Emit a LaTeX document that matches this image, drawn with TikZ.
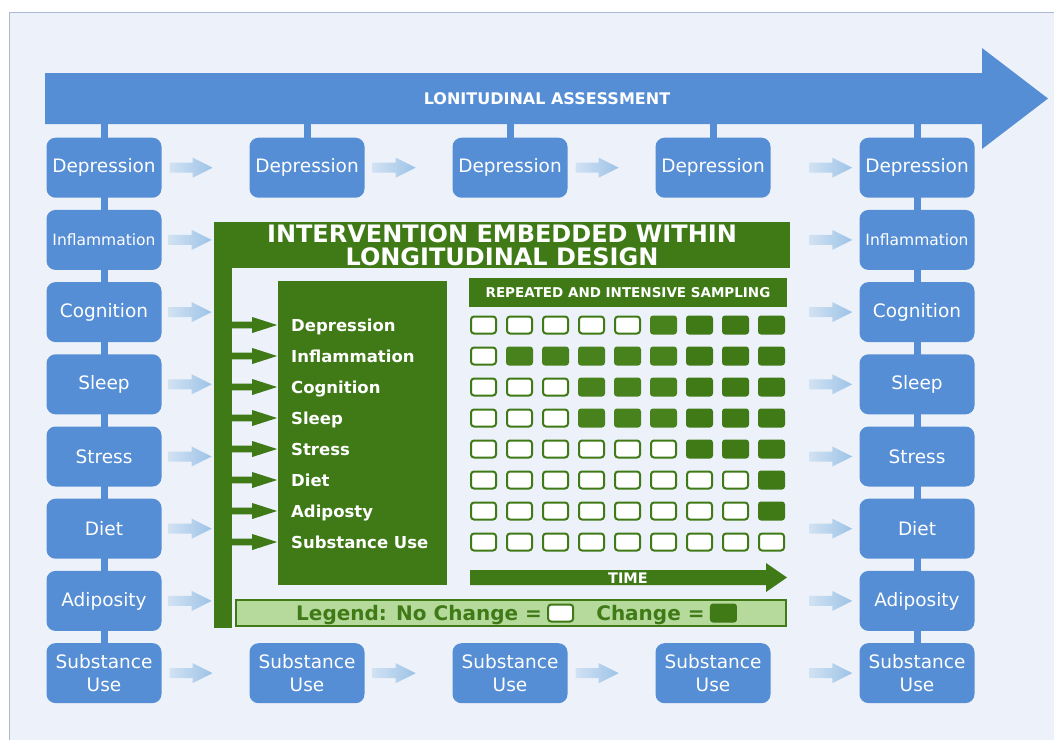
\documentclass[tikz,border=0pt]{standalone}
\usepackage{fontspec}
\setmainfont{DejaVu Sans}
\usetikzlibrary{positioning,calc,backgrounds}
\definecolor{hatter}{HTML}{EDF2FA}
\definecolor{keret}{HTML}{A9B9D6}
\definecolor{kek}{HTML}{558ED5}
\definecolor{halvany}{HTML}{9DC3E6}
\definecolor{zold}{HTML}{3F7A17}
\definecolor{zoldvil}{HTML}{47821C}
\definecolor{legvil}{HTML}{B5DA9B}
\colorlet{tele}{zold}
% pale arrow between two waves, #1 = left end
\newcommand{\halvanyil}[1]{%
  \shade[left color=halvany!35!hatter,right color=halvany,shift={#1}]
    (0,-5) -- (23,-5) -- (23,-10) -- (43,0) -- (23,10) -- (23,5) -- (0,5) -- cycle;}
% green arrow from the bar into the box
\newcommand{\zoldnyil}[1]{%
  \fill[zold,shift={#1}]
    (0,-3.3) -- (20,-3.3) -- (20,-8) -- (45,0) -- (20,8) -- (20,3.3) -- (0,3.3) -- cycle;}
\tikzset{
  kekdoboz/.style={fill=kek,rounded corners=9pt,minimum width=115pt,minimum height=60pt,inner sep=0pt,
                   text=white,align=center,font=\fontsize{18.5}{23}\selectfont},
  vonal/.style={draw=kek,line width=7pt},
  fejszoveg/.style={text=white,inner sep=0pt,font=\bfseries\fontsize{16}{18}\selectfont},
  zoldsav/.style={fill=zold,inner sep=0pt},
  cimke/.style={text=white,anchor=west,inner sep=0pt,text height=12pt,text depth=0pt,
                font=\bfseries\fontsize{16.5}{18}\selectfont},
  ures/.style={draw=zold,line width=2pt,fill=white,rounded corners=3pt,minimum width=25pt,
               minimum height=17pt,inner sep=0pt},
  teli/.style={fill=tele,rounded corners=3pt,minimum width=27pt,minimum height=19pt,inner sep=0pt},
  jelkeret/.style={draw=zold,line width=2pt,fill=legvil,minimum width=550pt,minimum height=26pt,inner sep=0pt},
  jelszoveg/.style={text=zold,inner sep=0pt,text height=14.6pt,text depth=0pt,
                    font=\bfseries\fontsize{20}{22}\selectfont},
}
\begin{document}
\begin{tikzpicture}[x=1pt,y=-1pt]
  \useasboundingbox (0,0) rectangle (1054,740);
  \coordinate (fejalj) at (0,124);
  % assessment arrow on top
  \fill[kek] (45,73) -- (982,73) -- (982,48) -- (1048,98.5) -- (982,149) -- (982,124) -- (45,124) -- cycle;
  \node[fejszoveg] (fej) at (547,99) {LONITUDINAL ASSESSMENT};

  % first and last wave
  \foreach \nev [count=\r] in {Depression,{\fontsize{15.5}{16}\selectfont Inflammation},Cognition,Sleep,
                               Stress,Diet,Adiposity,Substance\\Use} {
    \node[kekdoboz] (k-1-\r) at (104,95.5+72.2*\r) {\nev};
    \node[kekdoboz] (k-5-\r) at (917,95.5+72.2*\r) {\nev};
  }
  % waves in between
  \foreach \c/\x in {2/307,3/510,4/713} {
    \node[kekdoboz] (k-\c-1) at (\x,167.7) {Depression};
    \node[kekdoboz] (k-\c-8) at (\x,673.2) {Substance\\Use};
  }
  \foreach \c in {1,2,3} {
    \halvanyil{($(k-\c-1.east)+(8,0)$)}
    \halvanyil{($(k-\c-8.east)+(8,0)$)}
  }
  \foreach \r in {2,...,7} {\halvanyil{($(k-1-\r.east)+(7,0)$)}}
  \foreach \r in {1,...,8} {\halvanyil{($(k-5-\r.west)+(-50,0)$)}}

  % intervention frame
  \node[zoldsav,minimum width=576pt,minimum height=46pt] (cim) at (502,245) {};
  \node[text=white,align=center,inner sep=0pt,font=\bfseries\fontsize{24}{23}\selectfont]
        (cimszoveg) at (502,245.5) {INTERVENTION EMBEDDED WITHIN\\LONGITUDINAL DESIGN};
  \node[zoldsav,minimum width=18pt,minimum height=406pt] (sav) at (223,425) {};
  \node[zoldsav,minimum width=169pt,minimum height=304pt] (belso) at (362.5,433) {};
  \foreach \nev [count=\j from 0] in {Depression,Inflammation,Cognition,Sleep,Stress,Diet,Adiposty,Substance Use} {
    \node[cimke] (c-\j) at (291,325+31*\j) {\nev};
    \zoldnyil{(sav.east |- c-\j.west)}
  }

  % sampling grid
  \node[zoldsav,minimum width=318pt,minimum height=29pt,text=white,
        font=\bfseries\fontsize{13.5}{14}\selectfont] (minta) at (628,292.5) {REPEATED AND INTENSIVE SAMPLING};
  \foreach \db [count=\j from 0] in {5,1,3,3,6,8,8,9} {
    \foreach \i in {0,...,8} {
      \ifnum\i<\db \def\stilus{ures}\else\def\stilus{teli}\fi
      \ifnum\i<6 \colorlet{tele}{zoldvil}\fi
      \node[\stilus] (n-\j-\i) at (483.5+36*\i,325+31*\j) {};
    }
  }
  \fill[zold] (470,570) -- (766,570) -- (766,563) -- (787,577.5) -- (766,592) -- (766,585) -- (470,585) -- cycle;
  \node[text=white,inner sep=0pt,font=\bfseries\fontsize{14.5}{14}\selectfont] (ido) at (628,578) {TIME};

  % legend
  \node[jelkeret] (jel) at (511,613) {};
  \node[jelszoveg,anchor=west] (jsz1) at (296,613) {Legend: No Change =};
  \node[ures,right=5pt of jsz1] (jn1) {};
  \node[jelszoveg,right=22pt of jn1] (jsz2) {Change =};
  \node[teli,right=5pt of jsz2] (jn2) {};

  \begin{scope}[on background layer]
    \fill[white] (0,0) rectangle (1054,740);
    \fill[hatter] (9,12) rectangle (1054,740);
    \draw[keret,line width=1pt] (1054,12) -- (9,12) -- (9,740);
    \draw[vonal] (k-1-1.center |- fejalj) -- (k-1-8.center);
    \draw[vonal] (k-5-1.center |- fejalj) -- (k-5-8.center);
    \foreach \c in {2,3,4} {\draw[vonal] (k-\c-1.center |- fejalj) -- (k-\c-1.center);}
  \end{scope}
\end{tikzpicture}
\end{document}
